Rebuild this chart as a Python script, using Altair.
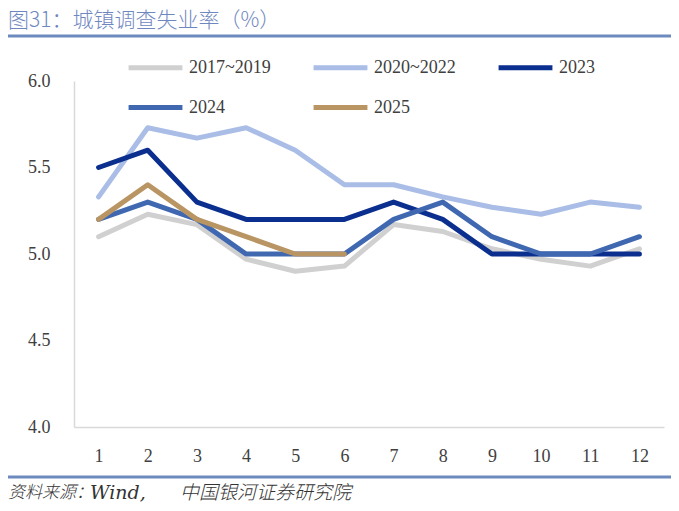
import altair as alt
import pandas as pd

months = list(range(1, 13))
s2017_2019 = [5.10, 5.23, 5.17, 4.97, 4.90, 4.93, 5.17, 5.13, 5.03, 4.97, 4.93, 5.03]
s2020_2022 = [5.33, 5.73, 5.67, 5.73, 5.60, 5.40, 5.40, 5.33, 5.27, 5.23, 5.30, 5.27]
s2023 = [5.5, 5.6, 5.3, 5.2, 5.2, 5.2, 5.3, 5.2, 5.0, 5.0, 5.0, 5.0]
s2024 = [5.2, 5.3, 5.2, 5.0, 5.0, 5.0, 5.2, 5.3, 5.1, 5.0, 5.0, 5.1]
s2025 = [5.2, 5.4, 5.2, 5.1, 5.0, 5.0]

series_names = ["2017~2019", "2020~2022", "2023", "2024", "2025"]
series_values = [s2017_2019, s2020_2022, s2023, s2024, s2025]
series_colors = ["#d0d0d0", "#a9bde6", "#0b2f8e", "#3f68b1", "#b99564"]

title_text = "图31：城镇调查失业率（%）"
source_parts = ["资料来源：", "Wind,", "中国银河证券研究院"]

rows = []
for name, vals in zip(series_names, series_values):
    for m, v in zip(months, vals):
        rows.append({"month": m, "value": v, "series": name})
df = pd.DataFrame(rows)

LAT = "Liberation Serif"
CJK = "Noto Sans CJK SC"

lines = alt.Chart(df).mark_line(strokeWidth=5, strokeCap="round", strokeJoin="round").encode(
    x=alt.X("month:O", scale=alt.Scale(type="point", padding=0.5),
            axis=alt.Axis(title=None, labelAngle=0, labelFontSize=18, labelFont=LAT,
                          labelColor="#404040", ticks=False, labelPadding=20,
                          domainColor="#d9d9d9", domainWidth=1.5, grid=False)),
    y=alt.Y("value:Q", scale=alt.Scale(domain=[4.0, 6.0], nice=False, zero=False),
            axis=alt.Axis(title=None, values=[4.0, 4.5, 5.0, 5.5, 6.0], format=".1f",
                          labelFontSize=18, labelFont=LAT, labelColor="#404040",
                          ticks=False, labelPadding=24, domainColor="#d9d9d9",
                          domainWidth=1.5, grid=False)),
    color=alt.Color("series:N",
                    scale=alt.Scale(domain=series_names, range=series_colors),
                    legend=alt.Legend(title=None, orient="none", legendX=52, legendY=-43,
                                      direction="horizontal", columns=3,
                                      symbolType="stroke", symbolSize=2900,
                                      symbolStrokeWidth=5, labelFontSize=18,
                                      labelFont=LAT, labelColor="#404040",
                                      labelOffset=4, columnPadding=32, rowPadding=-21)),
    order=alt.Order("series:N"),
)

title = alt.Chart(pd.DataFrame({"t": [title_text]})).mark_text(
    align="left", baseline="middle", fontSize=21, font=CJK, fontWeight=300, color="#6f87bf"
).encode(x=alt.value(-66), y=alt.value(-60), text="t:N")

top_rule = alt.Chart(pd.DataFrame({"a": [0]})).mark_rule(color="#6d8abf", strokeWidth=3).encode(
    x=alt.value(-66), x2=alt.value(597), y=alt.value(-45))

bottom_rule = alt.Chart(pd.DataFrame({"a": [0]})).mark_rule(color="#6d8abf", strokeWidth=3).encode(
    x=alt.value(-66), x2=alt.value(597), y=alt.value(396))

src_y = 412
src1 = alt.Chart(pd.DataFrame({"t": [source_parts[0]]})).mark_text(
    align="left", baseline="middle", fontSize=17, font=CJK, fontWeight=300, fontStyle="italic", color="#333333"
).encode(x=alt.value(-66), y=alt.value(src_y), text="t:N")
src2 = alt.Chart(pd.DataFrame({"t": [source_parts[1]]})).mark_text(
    align="left", baseline="middle", fontSize=19, font="DejaVu Serif", fontStyle="italic", color="#333333"
).encode(x=alt.value(16), y=alt.value(src_y), text="t:N")
src3 = alt.Chart(pd.DataFrame({"t": [source_parts[2]]})).mark_text(
    align="left", baseline="middle", fontSize=19, font=CJK, fontWeight=300, fontStyle="italic", color="#333333"
).encode(x=alt.value(106), y=alt.value(src_y), text="t:N")

chart = alt.layer(lines, title, top_rule, bottom_rule, src1, src2, src3).properties(
    width=590, height=346,
    padding={"left": 66, "top": 73, "right": 7, "bottom": 76},
    autosize=alt.AutoSizeParams(type="none"),
).configure_view(strokeWidth=0)

chart.save("out.html", embed_options={"renderer": "svg", "actions": False})
